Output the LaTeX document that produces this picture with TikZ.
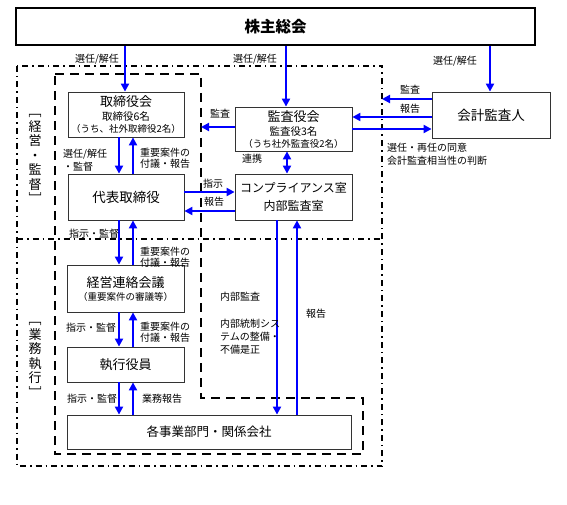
\documentclass[tikz,border=0pt]{standalone}
\usepackage{fontspec}
\setmainfont{Noto Sans CJK JP}
\usetikzlibrary{arrows.meta}

\begin{document}
\begin{tikzpicture}[x=1pt,y=-1pt,
    box/.style={draw=black!80,line width=0.8pt,align=center,inner sep=0pt},
    arr/.style={blue,line width=2.3pt,-{Triangle[length=8pt,width=8pt]}},
    lbl/.style={font=\fontsize{10}{11.5}\selectfont,inner sep=0pt},
    dashdot/.style={line width=1.3pt,dash pattern=on 6pt off 4pt on 1.5pt off 4pt},
    bigdash/.style={line width=2.6pt,dash pattern=on 9pt off 6pt}]
\useasboundingbox (0,0) rectangle (567,505);

% frames
\draw[dashdot] (17,66) rectangle (382,466);
\draw[dashdot] (17,239) -- (382,239);
\draw[bigdash] (55,74) -- (201,74) -- (201,398) -- (363,398) -- (363,454) -- (55,454) -- cycle;

% boxes
\node[box,line width=2.6pt,draw=black,minimum width=519pt,minimum height=37pt,font=\fontsize{15.5}{17}\selectfont\bfseries] (kabunushi) at (275.5,26.5) {株主総会};
\node[box,minimum width=116pt,minimum height=45pt,font=\fontsize{9.5}{12}\selectfont] (torishimari) at (126,114.5)
    {{\fontsize{13}{15}\selectfont 取締役会}\\[2pt]{\fontsize{10.5}{12}\selectfont 取締役6名}\\（うち、社外取締役2名）};
\node[box,minimum width=117pt,minimum height=44pt,font=\fontsize{9.5}{12}\selectfont] (kansa) at (293.5,129)
    {{\fontsize{13}{15}\selectfont 監査役会}\\[2pt]{\fontsize{10.5}{12}\selectfont 監査役3名}\\（うち社外監査役2名）};
\node[box,minimum width=118pt,minimum height=46pt,font=\fontsize{13.5}{15}\selectfont] (kaikei) at (491,115) {会計監査人};
\node[box,minimum width=116pt,minimum height=46pt,font=\fontsize{13.5}{15}\selectfont] (daihyo) at (126,197) {代表取締役};
\node[box,minimum width=117pt,minimum height=46pt,font=\fontsize{12}{18}\selectfont] (compliance) at (293.5,197) {コンプライアンス室\\内部監査室};
\node[box,minimum width=117pt,minimum height=47pt,font=\fontsize{9.5}{12}\selectfont] (renraku) at (125.5,288.5)
    {{\fontsize{13}{15}\selectfont 経営連絡会議}\\[1pt]（重要案件の審議等）};
\node[box,minimum width=117pt,minimum height=35pt,font=\fontsize{13}{15}\selectfont] (shikko) at (125.5,364.5) {執行役員};
\node[box,minimum width=284pt,minimum height=34pt,font=\fontsize{12.5}{15}\selectfont] (jigyo) at (209,432) {各事業部門・関係会社};

% side titles
\node[align=center,inner sep=0pt,font=\fontsize{13}{14.5}\selectfont] (keiei) at (35,159) {﹇\\経\\営\\・\\監\\督\\﹈};
\node[align=center,inner sep=0pt,font=\fontsize{13}{14.5}\selectfont] (gyomu) at (35,360) {﹇\\業\\務\\執\\行\\﹈};

% free ends on the frames
\coordinate (kaikeiend) at (382,99);
\coordinate (kansaend) at (201,127);

% arrows
\draw[arr] (kabunushi.south -| 125,0) -- (torishimari.north -| 125,0);
\draw[arr] (kabunushi.south -| 286,0) -- (kansa.north -| 286,0);
\draw[arr] (kabunushi.south -| 490,0) -- (kaikei.north -| 490,0);
\draw[arr] (kaikei.west |- kaikeiend) -- (kaikeiend);
\draw[arr] (kaikei.west |- 0,117) -- (kansa.east |- 0,117);
\draw[arr] (kansa.east |- 0,129) -- (kaikei.west |- 0,129);
\draw[arr] (kansa.west |- kansaend) -- (kansaend);
\draw[arr,{Triangle[length=8pt,width=8pt]}-{Triangle[length=8pt,width=8pt]}] (kansa.south -| 287,0) -- (compliance.north -| 287,0);
\draw[arr] (daihyo.east |- 0,192) -- (compliance.west |- 0,192);
\draw[arr] (compliance.west |- 0,211) -- (daihyo.east |- 0,211);
\draw[arr] (torishimari.south -| 119,0) -- (daihyo.north -| 119,0);
\draw[arr] (daihyo.north -| 133,0) -- (torishimari.south -| 133,0);
\draw[arr] (daihyo.south -| 119,0) -- (renraku.north -| 119,0);
\draw[arr] (renraku.north -| 133,0) -- (daihyo.south -| 133,0);
\draw[arr] (renraku.south -| 119,0) -- (shikko.north -| 119,0);
\draw[arr] (shikko.north -| 133,0) -- (renraku.south -| 133,0);
\draw[arr] (shikko.south -| 119,0) -- (jigyo.north -| 119,0);
\draw[arr] (jigyo.north -| 133,0) -- (shikko.south -| 133,0);
\draw[arr] (compliance.south -| 277,0) -- (jigyo.north -| 277,0);
\draw[arr] (jigyo.north -| 297,0) -- (compliance.south -| 297,0);

% labels
\node[lbl] (l1) at (97,59) {選任/解任};
\node[lbl] (l2) at (255,59) {選任/解任};
\node[lbl] (l3) at (455,61) {選任/解任};
\node[lbl] (l4) at (410,90) {監査};
\node[lbl] (l5) at (410,109) {報告};
\node[lbl,align=left,anchor=west] (l6) at (387,154.5) {選任・再任の同意\\[1.5pt]会計監査相当性の判断};
\node[lbl] (l7) at (220,114) {監査};
\node[lbl] (l8) at (252,159) {連携};
\node[lbl] (l9) at (213,184) {指示};
\node[lbl] (l10) at (214,202) {報告};
\node[lbl,align=left,anchor=west,font=\fontsize{10}{13}\selectfont] (l11) at (63,160) {選任/解任\\・監督};
\node[lbl,align=left,anchor=west] (l12) at (140,158) {重要案件の\\付議・報告};
\node[lbl] (l13) at (94,234) {指示・監督};
\node[lbl,align=left,anchor=west] (l14) at (140,257) {重要案件の\\付議・報告};
\node[lbl] (l15) at (91,328) {指示・監督};
\node[lbl,align=left,anchor=west] (l16) at (140,332) {重要案件の\\付議・報告};
\node[lbl] (l17) at (92,399) {指示・監督};
\node[lbl] (l18) at (162,399) {業務報告};
\node[lbl,anchor=west] (l19) at (220,297) {内部監査};
\node[lbl,align=left,anchor=west,font=\fontsize{10}{13}\selectfont] (l20) at (220,337) {内部統制シス\\テムの整備・\\不備是正};
\node[lbl] (l21) at (316,314) {報告};
\end{tikzpicture}
\end{document}
